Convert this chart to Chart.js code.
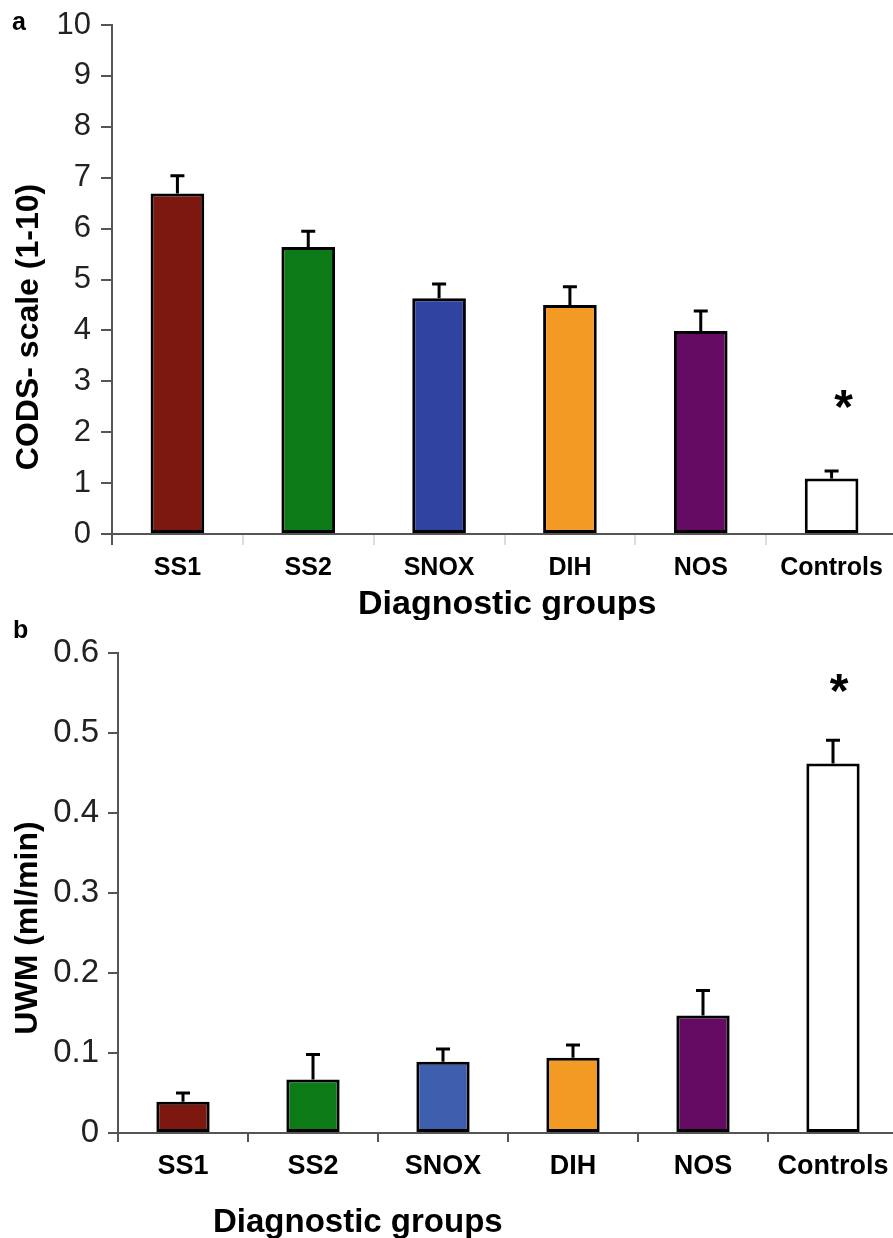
<!DOCTYPE html>
<html>
<head>
<meta charset="utf-8">
<script src="https://cdn.jsdelivr.net/npm/chart.js@4.4.0/dist/chart.umd.min.js"></script>
<style>
  html, body { margin: 0; padding: 0; background: #fff; overflow: hidden; }
  body { width: 893px; height: 1238px; position: relative; }
  canvas { position: absolute; left: 0; }
  #codsChart { top: 0; }
  #uwmChart { top: 620px; }
</style>
</head>
<body>
<canvas id="codsChart" width="898" height="620"></canvas>
<canvas id="uwmChart" width="900" height="618"></canvas>
<script>
const groups = ['SS1', 'SS2', 'SNOX', 'DIH', 'NOS', 'Controls'];

// a: CODS scale (mean + SEM)
const codsMean = [6.69, 5.64, 4.63, 4.50, 3.99, 1.09];
const codsErr = [0.35, 0.31, 0.28, 0.36, 0.39, 0.15];
const codsColors = ['#7d1810', '#0b7a17', '#2f44a0', '#f39a24', '#650b63', '#ffffff'];

// b: unstimulated whole mouth saliva (mean + SEM)
const uwmMean = [0.039, 0.067, 0.089, 0.094, 0.147, 0.462];
const uwmErr = [0.011, 0.031, 0.016, 0.016, 0.031, 0.029];
const uwmColors = ['#7d1810', '#0b7a17', '#3e5eae', '#f39a24', '#650b63', '#ffffff'];

const FONT = '"Liberation Sans", Arial, sans-serif';

// upward SEM whiskers + the star over Controls
function errorBars(star) {
  return {
    id: 'errorBars',
    afterDatasetsDraw(chart) {
      const { ctx } = chart;
      const ds = chart.data.datasets[0];
      const meta = chart.getDatasetMeta(0);
      const y = chart.scales.y;
      ctx.save();
      ctx.strokeStyle = '#000';
      ctx.lineWidth = 3;
      let lastTop = 0;
      meta.data.forEach((bar, i) => {
        const top = y.getPixelForValue(ds.data[i] + ds.errors[i]);
        ctx.beginPath();
        ctx.moveTo(bar.x, bar.y);
        ctx.lineTo(bar.x, top);
        ctx.moveTo(bar.x - 7, top);
        ctx.lineTo(bar.x + 7, top);
        ctx.stroke();
        lastTop = top;
      });
      const last = meta.data[meta.data.length - 1];
      ctx.fillStyle = '#000';
      ctx.font = 'bold 48px ' + FONT;
      ctx.textAlign = 'center';
      ctx.textBaseline = 'alphabetic';
      ctx.fillText('*', last.x + star.dx, lastTop - star.gap + 25);
      ctx.restore();
    }
  };
}

// panel letter and axis titles
function panelLabels(cfg) {
  return {
    id: 'panelLabels',
    afterDraw(chart) {
      const { ctx } = chart;
      ctx.save();
      ctx.fillStyle = '#000';
      ctx.textBaseline = 'alphabetic';

      ctx.font = 'bold 25px ' + FONT;
      ctx.textAlign = 'left';
      ctx.fillText(cfg.letter, cfg.letterX, cfg.letterY);

      ctx.font = 'bold ' + cfg.xTitleSize + 'px ' + FONT;
      ctx.fillText('Diagnostic groups', cfg.xTitleX, cfg.xTitleY);

      ctx.translate(cfg.yTitleX, cfg.yTitleY);
      ctx.rotate(-Math.PI / 2);
      ctx.font = 'bold ' + cfg.yTitleSize + 'px ' + FONT;
      ctx.textAlign = 'center';
      ctx.fillText(cfg.yTitle, 0, 0);
      ctx.restore();
    }
  };
}

function makeChart(id, opts) {
  return new Chart(document.getElementById(id), {
    type: 'bar',
    data: {
      labels: groups,
      datasets: [{
        data: opts.values,
        errors: opts.errors,
        backgroundColor: opts.colors,
        borderColor: '#000',
        borderWidth: 3,
        borderSkipped: false,
        categoryPercentage: 1,
        barPercentage: 0.41,
      }],
    },
    options: {
      responsive: false,
      animation: false,
      devicePixelRatio: 1,
      layout: { padding: { top: opts.padTop, right: opts.padRight, left: 0, bottom: 0 } },
      scales: {
        x: {
          grid: {
            drawOnChartArea: false,
            drawTicks: true,
            tickLength: opts.xTickLength,
            lineWidth: 2,
            color: (c) => (c.index === 0 ? '#555' : opts.xTickColor),
          },
          border: { display: true, color: '#555', width: 2 },
          ticks: {
            color: '#000',
            padding: 8,
            maxRotation: 0,
            autoSkip: false,
            font: { family: FONT, size: opts.catSize, weight: 'bold' },
          },
          afterFit: (s) => {
            s.height = opts.xHeight;
            s.paddingLeft = 0;
            s.paddingRight = 0;
          },
        },
        y: {
          min: 0,
          max: opts.max,
          ticks: {
            stepSize: opts.step,
            color: '#222',
            padding: opts.yPad,
            font: { family: FONT, size: opts.tickSize },
          },
          grid: { drawOnChartArea: false, drawTicks: true, tickLength: opts.yTickLength, lineWidth: 2, color: '#555' },
          border: { display: true, color: '#555', width: 2 },
          afterFit: (s) => {
            s.width = opts.yWidth;
            s.paddingTop = 0;
            s.paddingBottom = 0;
          },
        },
      },
      plugins: { legend: { display: false }, tooltip: { enabled: false } },
    },
    plugins: [errorBars(opts.star), panelLabels(opts.labels)],
  });
}

makeChart('codsChart', {
  values: codsMean, errors: codsErr, colors: codsColors,
  max: 10, step: 1, tickSize: 31, catSize: 25, yPad: 10,
  padTop: 25, padRight: 1, xHeight: 86, yWidth: 112,
  xTickLength: 11, yTickLength: 11, xTickColor: '#dcdcdc',
  star: { dx: 12, gap: 73 },
  labels: {
    letter: 'a', letterX: 12, letterY: 30,
    xTitleX: 358, xTitleY: 614, xTitleSize: 34,
    yTitle: 'CODS- scale (1-10)', yTitleX: 37.5, yTitleY: 327, yTitleSize: 32,
  },
});

makeChart('uwmChart', {
  values: uwmMean, errors: uwmErr, colors: uwmColors,
  max: 0.6, step: 0.1, tickSize: 33, catSize: 27, yPad: 9,
  padTop: 33, padRight: 2, xHeight: 105, yWidth: 118,
  xTickLength: 9, yTickLength: 10, xTickColor: '#555',
  star: { dx: 6, gap: 58 },
  labels: {
    letter: 'b', letterX: 13, letterY: 18,
    xTitleX: 213, xTitleY: 612, xTitleSize: 33,
    yTitle: 'UWM (ml/min)', yTitleX: 37, yTitleY: 308, yTitleSize: 32,
  },
});
</script>
</body>
</html>
